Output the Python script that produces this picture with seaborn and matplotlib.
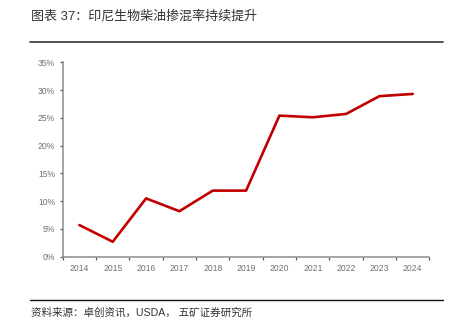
import matplotlib
matplotlib.use("Agg")
import matplotlib.pyplot as plt
import seaborn as sns
import pandas as pd
import numpy as np
from matplotlib.ticker import FixedLocator, FuncFormatter

years = ["2014", "2015", "2016", "2017", "2018", "2019", "2020", "2021", "2022", "2023", "2024"]
blend_rate = [5.7, 2.7, 10.5, 8.2, 11.9, 11.9, 25.4, 25.1, 25.7, 28.9, 29.3]
y_ticks = [0, 5, 10, 15, 20, 25, 30, 35]
title_text = "图表 37：印尼生物柴油掺混率持续提升"
source_text = "资料来源：卓创资讯，USDA， 五矿证券研究所"

sns.set_theme(style="white")
plt.rcParams['font.family'] = ['Liberation Sans', 'Noto Sans CJK SC', 'DejaVu Sans']

df = pd.DataFrame({"pos": np.arange(len(years)), "rate": blend_rate})

fig = plt.figure(figsize=(4.58, 3.33), dpi=100)
ax = fig.add_axes([0.137, 0.229, 0.8006, 0.584])
sns.lineplot(data=df, x="pos", y="rate", ax=ax, color="#C00000", linewidth=1.9)

ax.set_xlim(-0.5, len(years) - 0.5)
ax.set_ylim(0, 35)
ax.set_xticks(np.arange(len(years)))
ax.set_xticklabels(years)
ax.xaxis.set_minor_locator(FixedLocator(np.arange(len(years) + 1) - 0.5))
ax.set_yticks(y_ticks)
ax.yaxis.set_major_formatter(FuncFormatter(lambda v, p: f"{int(v)}%"))
ax.set_xlabel("")
ax.set_ylabel("")

for s in ["top", "right"]:
    ax.spines[s].set_visible(False)
for s in ["left", "bottom"]:
    ax.spines[s].set_color("#8c8c8c")
    ax.spines[s].set_linewidth(1.1)

ax.tick_params(axis="x", which="major", length=0, labelsize=6.2, labelcolor="#707070", pad=5)
ax.tick_params(axis="x", which="minor", length=2.5, width=0.9, color="#555555", direction="out", bottom=True)
ax.tick_params(axis="y", which="major", length=2.5, width=0.9, color="#555555", direction="out",
               labelsize=6.2, labelcolor="#707070", pad=3, left=True)

# header and footer
fig.text(31 / 458, 1 - 16 / 333, title_text, fontsize=9.4, color="#333333", va="center", ha="left")
fig.add_artist(plt.Line2D([30 / 458, 443 / 458], [1 - 42 / 333, 1 - 42 / 333],
                          transform=fig.transFigure, color="#444444", linewidth=1.3))
fig.add_artist(plt.Line2D([30 / 458, 443 / 458], [1 - 300 / 333, 1 - 300 / 333],
                          transform=fig.transFigure, color="#111111", linewidth=1.0))
fig.text(31 / 458, 1 - 313 / 333, source_text, fontsize=7.6, color="#333333", va="center", ha="left")

fig.savefig("out.png", dpi=100)
